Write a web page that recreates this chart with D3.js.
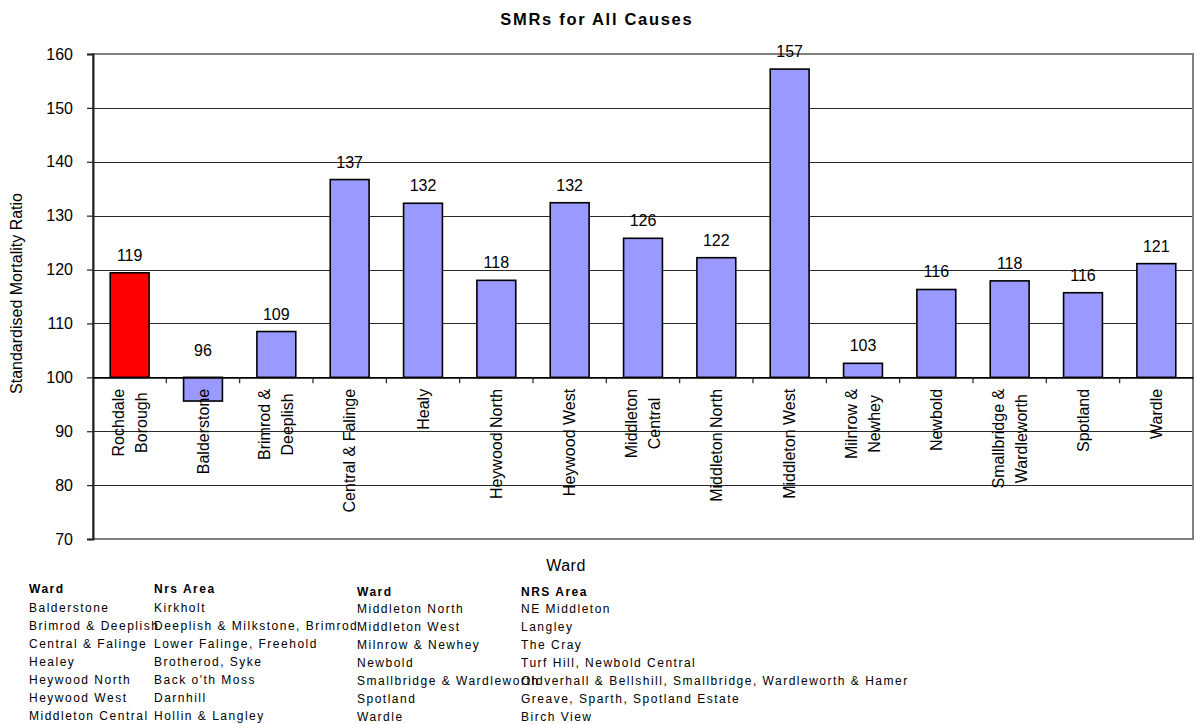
<!DOCTYPE html>
<html>
<head>
<meta charset="utf-8">
<script src="https://cdn.jsdelivr.net/npm/d3@7"></script>
<style>
  html, body { margin: 0; padding: 0; background: #fff; }
  svg { display: block; font-family: "Liberation Sans", Arial, sans-serif; }
</style>
</head>
<body>
<svg id="chart" width="1196" height="724"></svg>
<script>
// ---- data ----
const categories = ["Rochdale Borough", "Balderstone", "Brimrod & Deeplish", "Central & Falinge", "Healy",
  "Heywood North", "Heywood West", "Middleton Central", "Middleton North", "Middleton West",
  "Milnrow & Newhey", "Newbold", "Smallbridge & Wardleworth", "Spotland", "Wardle"];
const categoryLines = [["Rochdale", "Borough"], ["Balderstone"], ["Brimrod &", "Deeplish"], ["Central & Falinge"], ["Healy"],
  ["Heywood North"], ["Heywood West"], ["Middleton", "Central"], ["Middleton North"], ["Middleton West"],
  ["Milnrow &", "Newhey"], ["Newbold"], ["Smallbridge &", "Wardleworth"], ["Spotland"], ["Wardle"]];
const smrValues = [119.4, 95.6, 108.5, 136.7, 132.3, 118.0, 132.4, 125.8, 122.2, 157.2, 102.6, 116.3, 117.9, 115.7, 121.1];
const yTicks = [70, 80, 90, 100, 110, 120, 130, 140, 150, 160];
const baselineValue = 100;

const legendWards1 = ["Balderstone", "Brimrod & Deeplish", "Central & Falinge", "Healey", "Heywood North", "Heywood West", "Middleton Central"];
const legendAreas1 = ["Kirkholt", "Deeplish & Milkstone, Brimrod", "Lower Falinge, Freehold", "Brotherod, Syke", "Back o'th Moss", "Darnhill", "Hollin & Langley"];
const legendWards2 = ["Middleton North", "Middleton West", "Milnrow & Newhey", "Newbold", "Smallbridge & Wardleworth", "Spotland", "Wardle"];
const legendAreas2 = ["NE Middleton", "Langley", "The Cray", "Turf Hill, Newbold Central", "Oldverhall & Bellshill, Smallbridge, Wardleworth & Hamer", "Greave, Sparth, Spotland Estate", "Birch View"];

const title = "SMRs for All Causes";
const yTitle = "Standardised Mortality Ratio";
const xTitle = "Ward";

// ---- layout ----
const svg = d3.select("#chart");
const plot = { left: 93, right: 1193, top: 54, bottom: 539 };

const x = d3.scaleBand().domain(categories).range([plot.left, plot.right]).paddingInner(0.47).paddingOuter(0.235);
const xb = d3.scaleBand().domain(categories).range([plot.left, plot.right]);
const y = d3.scaleLinear().domain([70, 160]).range([plot.bottom, plot.top]);

// gridlines
svg.append("g").selectAll("line").data(yTicks.filter(t => t > 70 && t < 160 && t !== baselineValue)).join("line")
  .attr("x1", plot.left).attr("x2", plot.right)
  .attr("y1", d => Math.round(y(d)) + 0.5).attr("y2", d => Math.round(y(d)) + 0.5)
  .attr("stroke", "#2a2a2a").attr("stroke-width", 1);

// plot border (gray)
svg.append("rect")
  .attr("x", plot.left).attr("y", plot.top)
  .attr("width", plot.right - plot.left).attr("height", plot.bottom - plot.top)
  .attr("fill", "none").attr("stroke", "#808080").attr("stroke-width", 2);

// bars
svg.append("g").selectAll("rect").data(smrValues).join("rect")
  .attr("x", (d, i) => x(categories[i]))
  .attr("width", x.bandwidth())
  .attr("y", d => y(Math.max(d, baselineValue)))
  .attr("height", d => Math.abs(y(d) - y(baselineValue)))
  .attr("fill", (d, i) => i === 0 ? "#FF0000" : "#9999FF")
  .attr("stroke", "#000").attr("stroke-width", 1.6);

// y axis
const yAxis = d3.axisLeft(y).tickValues(yTicks).tickSize(6).tickPadding(14).tickFormat(d3.format("d"));
const gy = svg.append("g").attr("transform", `translate(${plot.left},0)`).call(yAxis);
gy.select(".domain").attr("stroke", "#222").attr("stroke-width", 2);
gy.selectAll(".tick line").attr("stroke", "#222").attr("stroke-width", 1.2);
gy.selectAll(".tick text").attr("font-size", 16).attr("fill", "#000").attr("font-family", "Liberation Sans, Arial, sans-serif");

// x axis at baseline 100
const xAxis = d3.axisBottom(xb).tickSize(0).tickFormat("");
const gx = svg.append("g").attr("transform", `translate(0,${y(baselineValue)})`).call(xAxis);
gx.select(".domain").attr("stroke", "#000").attr("stroke-width", 1.6);
// band boundary ticks
svg.append("g").selectAll("line").data(categories.slice(1)).join("line")
  .attr("x1", d => xb(d)).attr("x2", d => xb(d))
  .attr("y1", y(baselineValue)).attr("y2", y(baselineValue) + 6)
  .attr("stroke", "#222").attr("stroke-width", 1.2);

// category labels (rotated)
const catG = svg.append("g");
categoryLines.forEach((lines, i) => {
  const cx = xb(categories[i]) + xb.bandwidth() / 2;
  const g = catG.append("g");
  const texts = lines.map((ln, j) => g.append("text")
    .attr("font-size", 16).attr("fill", "#000").attr("text-anchor", "middle").text(ln));
  const maxLen = d3.max(texts, t => t.node().getComputedTextLength());
  const yTop = y(baselineValue) + 11.5;
  const n = lines.length;
  texts.forEach((t, j) => {
    const off = 5.5 + (j - (n - 1) / 2) * 23;
    t.attr("transform", `translate(${cx + off},${yTop + maxLen / 2}) rotate(-90)`);
  });
});

// data labels
svg.append("g").selectAll("text").data(smrValues).join("text")
  .attr("x", (d, i) => x(categories[i]) + x.bandwidth() / 2)
  .attr("y", d => d >= baselineValue ? y(d) - 12 : y(baselineValue) - 21.5)
  .attr("text-anchor", "middle").attr("font-size", 16).attr("fill", "#000")
  .text(d => Math.round(d));

// title
svg.append("text").attr("x", 596 + 0.85).attr("y", 25)
  .attr("text-anchor", "middle").attr("font-size", 16.5).attr("font-weight", "bold")
  .attr("letter-spacing", "1.7px").attr("fill", "#000").text(title);

// y title
svg.append("text").attr("transform", `translate(22,${(plot.top + plot.bottom) / 2 - 3}) rotate(-90)`)
  .attr("text-anchor", "middle").attr("font-size", 16).attr("fill", "#000").text(yTitle);

// x title
svg.append("text").attr("x", 566).attr("y", 571)
  .attr("text-anchor", "middle").attr("font-size", 16).attr("letter-spacing", "0.5px").attr("fill", "#000").text(xTitle);

// legend tables
function table(xWard, xArea, headerY, rowY0, wardHeader, areaHeader, wards, areas) {
  const g = svg.append("g").attr("font-size", 12).attr("letter-spacing", "1.5px").attr("fill", "#000");
  g.append("text").attr("x", xWard).attr("y", headerY).attr("font-weight", "bold").text(wardHeader);
  g.append("text").attr("x", xArea).attr("y", headerY).attr("font-weight", "bold").text(areaHeader);
  g.selectAll("text.w").data(wards).join("text").attr("class", "w")
    .attr("x", xWard).attr("y", (d, i) => rowY0 + i * 18.15).text(d => d);
  g.selectAll("text.a").data(areas).join("text").attr("class", "a")
    .attr("x", xArea).attr("y", (d, i) => rowY0 + i * 18.15).text(d => d);
}
table(29, 154, 592.5, 611.5, "Ward", "Nrs Area", legendWards1, legendAreas1);
table(357, 521, 595.5, 612.5, "Ward", "NRS Area", legendWards2, legendAreas2);
</script>
</body>
</html>
